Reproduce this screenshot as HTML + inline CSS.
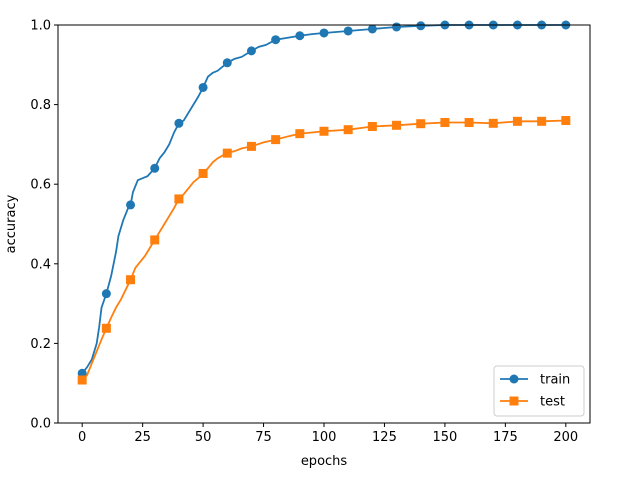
<!DOCTYPE html>
<html><head><meta charset="utf-8"><style>
body{margin:0;background:#fff;}
svg{display:block;font-family:"DejaVu Sans","Liberation Sans",sans-serif;}
</style></head><body>
<svg id="chart" width="621" height="482">
<rect x="0" y="0" width="621" height="482" fill="#fff"/>
<g id="plot"></g>
</svg>
<script>
const trainEpochs=[0,2,4,6,7,8,10,12,14,15,17,19,20,21,23,25,27,30,32,34,36,38,40,42,44,46,48,50,52,54,56,58,60,63,66,70,73,76,80,85,90,95,100,110,120,130,140,150,160,170,180,190,200];
const trainValues=[.125,.14,.16,.2,.24,.29,.325,.37,.43,.47,.51,.54,.548,.58,.61,.615,.62,.64,.665,.68,.7,.73,.753,.76,.78,.8,.82,.843,.87,.88,.885,.895,.905,.915,.92,.935,.945,.95,.963,.968,.973,.977,.98,.985,.99,.995,.998,1,1,1,1,1,1];
const testEpochs=[0,2,4,6,8,10,12,14,16,18,20,22,24,26,28,30,32,34,36,38,40,42,44,46,48,50,52,54,56,58,60,63,66,70,75,80,85,90,95,100,110,120,130,140,150,160,170,180,190,200];
const testValues=[.108,.12,.15,.18,.21,.238,.265,.29,.31,.335,.36,.39,.405,.42,.44,.46,.48,.5,.52,.54,.563,.575,.59,.605,.615,.627,.64,.655,.665,.672,.678,.683,.69,.695,.705,.712,.72,.727,.73,.733,.737,.745,.748,.752,.755,.755,.753,.758,.758,.76];
const markerEpochs=[0,10,20,30,40,50,60,70,80,90,100,110,120,130,140,150,160,170,180,190,200];
const xTicks=[0,25,50,75,100,125,150,175,200];
const yTicks=[0,0.2,0.4,0.6,0.8,1.0];
const L=58,R=590,T=25,B=423;
const sx=v=>L+(v+10)/220*(R-L);
const sy=v=>B-v*(B-T);
const NS='http://www.w3.org/2000/svg';
const g=document.getElementById('plot');
function el(t,a,p){const e=document.createElementNS(NS,t);for(const k in a)e.setAttribute(k,a[k]);(p||g).appendChild(e);return e;}
function interp(ep,va,x){for(let i=0;i<ep.length-1;i++){if(x>=ep[i]&&x<=ep[i+1]){const f=(x-ep[i])/(ep[i+1]-ep[i]);return va[i]+f*(va[i+1]-va[i]);}}return va[va.length-1];}
function series(ep,va,color,name,sq){
  const line=el('polyline',{points:ep.map((e,i)=>sx(e)+','+sy(va[i])).join(' '),fill:'none',stroke:color,'stroke-width':1.8});
  
  
  markerEpochs.forEach(m=>{
    const x=sx(m),y=sy(interp(ep,va,m));
    const mk=sq?el('rect',{x:x-4.5,y:y-4.5,width:9,height:9,fill:color}):el('circle',{cx:x,cy:y,r:4.5,fill:color});
    
    
  });
}
series(trainEpochs,trainValues,'#1f77b4','train',false);
series(testEpochs,testValues,'#ff7f0e','test',true);
const frame=el('rect',{x:L,y:T,width:R-L,height:B-T,fill:'none',stroke:'#000','stroke-width':1});


xTicks.forEach(v=>{
  el('line',{x1:sx(v),x2:sx(v),y1:B,y2:B+4,stroke:'#000'});
  const t=el('text',{x:sx(v),y:B+18,'text-anchor':'middle','font-size':13});
  t.textContent=v;
  
  
});
yTicks.forEach(v=>{
  el('line',{x1:L-4,x2:L,y1:sy(v),y2:sy(v),stroke:'#000'});
  const t=el('text',{x:L-7,y:sy(v)+4.5,'text-anchor':'end','font-size':13});
  t.textContent=v.toFixed(1);
  
  
});
const xl=el('text',{x:(L+R)/2,y:465,'text-anchor':'middle','font-size':13});xl.textContent='epochs';


const yl=el('text',{x:15,y:224,'text-anchor':'middle','font-size':13,transform:'rotate(-90 15 224)'});yl.textContent='accuracy';


const lg=el('g',{});


el('rect',{x:494,y:366,width:90,height:50,rx:3,fill:'#fff',stroke:'#ccc'},lg);
[['train','#1f77b4',379,false],['test','#ff7f0e',401,true]].forEach(([n,c,y,sq])=>{
  const e=el('g',{},lg);
  
  
  el('line',{x1:500,x2:528,y1:y,y2:y,stroke:c,'stroke-width':1.8},e);
  if(sq)el('rect',{x:509.5,y:y-4.5,width:9,height:9,fill:c},e);else el('circle',{cx:514,cy:y,r:4.5,fill:c},e);
  const t=el('text',{x:540,y:y+4.5,'font-size':13},e);t.textContent=n;
});
</script>
</body></html>
